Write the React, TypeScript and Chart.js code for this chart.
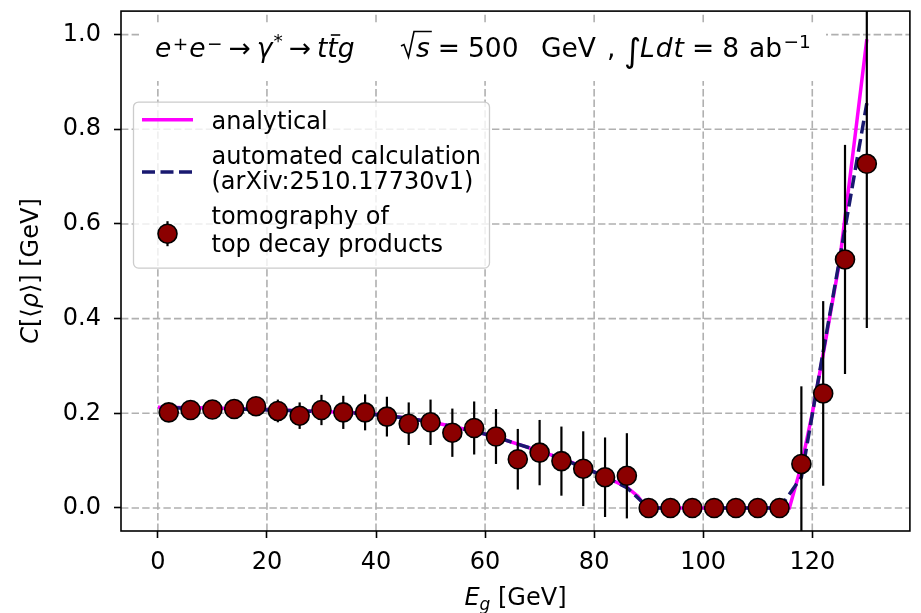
import React, { useEffect, useRef } from "react";
import { Chart, registerables } from "chart.js";

Chart.register(...registerables);

// ---------------- data ----------------
const energies = [2, 6, 10, 14, 18, 22, 26, 30, 34, 38, 42, 46, 50, 54, 58, 62, 66, 70, 74, 78, 82, 86, 90, 94, 98, 102, 106, 110, 114, 118, 122, 126, 130];
const tomography = [0.202, 0.207, 0.208, 0.209, 0.215, 0.205, 0.195, 0.207, 0.202, 0.202, 0.193, 0.178, 0.181, 0.159, 0.169, 0.151, 0.103, 0.117, 0.099, 0.083, 0.065, 0.068, 0, 0, 0, 0, 0, 0, 0, 0.093, 0.242, 0.525, 0.727];
const tomographyErr = [0.010, 0.011, 0.012, 0.014, 0.016, 0.024, 0.028, 0.032, 0.035, 0.038, 0.042, 0.045, 0.048, 0.051, 0.056, 0.058, 0.064, 0.069, 0.073, 0.079, 0.084, 0.090, 0, 0, 0, 0, 0, 0, 0, 0.164, 0.195, 0.242, 0.347];
const automated = [0.212, 0.211, 0.210, 0.209, 0.208, 0.207, 0.205, 0.204, 0.202, 0.199, 0.195, 0.189, 0.182, 0.172, 0.162, 0.150, 0.135, 0.120, 0.104, 0.086, 0.066, 0.043, 0, 0, 0, 0, 0, 0, 0, 0.065, 0.33, 0.59, 0.855];
const analyticalE = [0, 10, 20, 30, 38, 42, 46, 50, 54, 58, 62, 66, 70, 74, 78, 82, 86, 88, 89.6, 115.8, 118, 120, 122, 125, 128, 130];
const analyticalC = [0.213, 0.211, 0.208, 0.204, 0.200, 0.196, 0.189, 0.182, 0.172, 0.162, 0.150, 0.135, 0.120, 0.105, 0.087, 0.066, 0.044, 0.025, 0, 0, 0.09, 0.2, 0.325, 0.52, 0.80, 0.99];
const xTicks = [0, 20, 40, 60, 80, 100, 120];
const yTicks = [0, 0.2, 0.4, 0.6, 0.8, 1.0];
const yTickLabels = ["0.0", "0.2", "0.4", "0.6", "0.8", "1.0"];
const xRange = [-6.76, 137.9];
const yRange = [-0.0486, 1.0496];
const seriesLabels = [
  ["analytical"],
  ["automated calculation", "(arXiv:2510.17730v1)"],
  ["tomography of", "top decay products"],
];

// ---------------- styles ----------------
const FONT = "'DejaVu Sans', sans-serif";
const FS = 24;
const SUP = 17;
const TFS = 26.5; // annotation font
const TSUP = 18.5;
const MAGENTA = "#ff00ff";
const NAVY = "#191970";
const DARKRED = "#8b0000";
const GRID = "#b0b0b0";
const DASH_LINE = [13, 5.5];
const GRID_DASH = [7.4, 3.2];

type Part = { t: string; it?: boolean; size?: number; dy?: number; gap?: number; bar?: boolean };

function font(it: boolean | undefined, size: number) {
  return `${it ? "italic " : ""}${size}px ${FONT}`;
}

function runWidth(ctx: CanvasRenderingContext2D, parts: Part[], def = FS) {
  let w = 0;
  for (const p of parts) {
    ctx.font = font(p.it, p.size || def);
    w += (p.gap || 0) + ctx.measureText(p.t).width;
  }
  return w;
}

function drawRun(ctx: CanvasRenderingContext2D, parts: Part[], x: number, y: number, def = FS) {
  let cx = x;
  for (const p of parts) {
    cx += p.gap || 0;
    ctx.font = font(p.it, p.size || def);
    ctx.fillText(p.t, cx, y + (p.dy || 0));
    const w = ctx.measureText(p.t).width;
    if (p.bar) {
      ctx.save();
      ctx.lineWidth = 1.6;
      ctx.beginPath();
      ctx.moveTo(cx + 3.5, y - 22);
      ctx.lineTo(cx + w + 2.5, y - 22);
      ctx.stroke();
      ctx.restore();
    }
    cx += w;
  }
  return cx;
}

const SPA = 6; // spacing around arrows
const SPE = 8; // spacing around "="

const titleA: Part[] = [
  { t: "e", it: true },
  { t: "+", size: TSUP, dy: -7, gap: 1.5 },
  { t: "e", it: true, gap: 1 },
  { t: "\u2212", size: TSUP, dy: -7, gap: 1.5 },
  { t: "\u2192", gap: SPA },
  { t: "\u03b3", it: true, gap: SPA },
  { t: "*", size: TSUP, dy: -10, gap: 1 },
  { t: "\u2192", gap: SPA },
  { t: "t", it: true, gap: SPA },
  { t: "t", it: true, bar: true },
  { t: "g", it: true },
];
const titleB: Part[] = [
  { t: "=", gap: SPE },
  { t: "500", gap: SPE },
];
const titleC: Part[] = [
  { t: "L", it: true },
  { t: "d", it: true, gap: 1 },
  { t: "t", it: true, gap: 1 },
  { t: "=", gap: SPE },
  { t: "8", gap: SPE },
];
const titleD: Part[] = [
  { t: "ab" },
  { t: "\u22121", size: TSUP, dy: -9, gap: 1.5 },
];

const decorPlugin = {
  id: "decor",
  beforeDatasetsDraw(chart: any) {
    const { ctx, chartArea: a, scales } = chart;
    ctx.save();
    ctx.strokeStyle = GRID;
    ctx.lineWidth = 1.6;
    ctx.setLineDash(GRID_DASH);
    for (const v of xTicks) {
      const px = scales.x.getPixelForValue(v);
      ctx.beginPath();
      ctx.moveTo(px, a.bottom);
      ctx.lineTo(px, a.top);
      ctx.stroke();
    }
    for (const v of yTicks) {
      const py = scales.y.getPixelForValue(v);
      ctx.beginPath();
      ctx.moveTo(a.left, py);
      ctx.lineTo(a.right, py);
      ctx.stroke();
    }
    ctx.restore();
  },
  beforeDatasetDraw(chart: any, args: any) {
    if (args.index !== 0) return;
    const { ctx, chartArea: a, scales } = chart;
    ctx.save();
    ctx.beginPath();
    ctx.rect(a.left, a.top, a.right - a.left, a.bottom - a.top);
    ctx.clip();
    ctx.strokeStyle = "#000";
    ctx.lineWidth = 2.2;
    energies.forEach((e, i) => {
      const err = tomographyErr[i];
      if (!err) return;
      const px = scales.x.getPixelForValue(e);
      ctx.beginPath();
      ctx.moveTo(px, scales.y.getPixelForValue(tomography[i] - err));
      ctx.lineTo(px, scales.y.getPixelForValue(tomography[i] + err));
      ctx.stroke();
    });
    ctx.restore();
  },
  afterDatasetsDraw(chart: any) {
    const { ctx, chartArea: a } = chart;
    const L = a.left;
    ctx.save();
    // annotation box
    ctx.fillStyle = "#ffffff";
    ctx.fillRect(L + 21, 24, 684, 57);
    ctx.fillStyle = "#000";
    ctx.strokeStyle = "#000";
    ctx.textAlign = "left";
    ctx.textBaseline = "alphabetic";
    const base = 57;
    drawRun(ctx, titleA, L + 34, base, TFS);
    // radical sqrt(s)
    const rx = L + 280;
    ctx.font = font(true, TFS);
    const sw = ctx.measureText("s").width;
    ctx.lineWidth = 1.6;
    ctx.beginPath();
    ctx.moveTo(rx, 46);
    ctx.lineTo(rx + 3, 44.5);
    ctx.lineTo(rx + 7.5, base);
    ctx.lineTo(rx + 13, 31.5);
    ctx.lineTo(rx + 15 + sw + 2, 31.5);
    ctx.stroke();
    ctx.fillText("s", rx + 15, base);
    drawRun(ctx, titleB, rx + 15 + sw, base, TFS);
    ctx.font = font(false, TFS);
    ctx.fillText("GeV", L + 420, base);
    ctx.fillText(",", L + 486, base);
    ctx.font = font(false, 33);
    ctx.fillText("\u222b", L + 503, base + 5);
    drawRun(ctx, titleC, L + 519, base, TFS);
    drawRun(ctx, titleD, L + 628, base, TFS);
    // frame
    ctx.lineWidth = 1.6;
    ctx.strokeRect(a.left, a.top, a.right - a.left, a.bottom - a.top);
    ctx.restore();
  },
  afterDraw(chart: any) {
    const { ctx, chartArea: a } = chart;
    ctx.save();
    ctx.fillStyle = "#000";
    ctx.textAlign = "left";
    ctx.textBaseline = "alphabetic";
    // x axis title
    const xParts: Part[] = [
      { t: "E", it: true },
      { t: "g", it: true, size: SUP, dy: 5 },
      { t: " [GeV]" },
    ];
    const xw = runWidth(ctx, xParts);
    drawRun(ctx, xParts, (a.left + a.right) / 2 - xw / 2, 605);
    // y axis title
    const yParts: Part[] = [
      { t: "C", it: true },
      { t: "[\u27e8" },
      { t: "\u03c1", it: true },
      { t: "\u27e9] [GeV]" },
    ];
    const yw = runWidth(ctx, yParts);
    ctx.save();
    ctx.translate(38, (a.top + a.bottom) / 2);
    ctx.rotate(-Math.PI / 2);
    drawRun(ctx, yParts, -yw / 2, 0);
    ctx.restore();

    // legend
    const lx = a.left + 12.5;
    const ly = a.top + 91;
    const lw = 356;
    const lh = 166;
    ctx.fillStyle = "rgba(255,255,255,0.8)";
    ctx.strokeStyle = "#cccccc";
    ctx.lineWidth = 1.3;
    ctx.beginPath();
    (ctx as any).roundRect(lx, ly, lw, lh, 5);
    ctx.fill();
    ctx.stroke();
    const hx0 = lx + 8.5;
    const hx1 = lx + 59.5;
    const tx = lx + 78;
    ctx.strokeStyle = MAGENTA;
    ctx.lineWidth = 3.5;
    ctx.beginPath();
    ctx.moveTo(hx0, ly + 17.6);
    ctx.lineTo(hx1, ly + 17.6);
    ctx.stroke();
    ctx.strokeStyle = NAVY;
    ctx.setLineDash(DASH_LINE);
    ctx.beginPath();
    ctx.moveTo(hx0, ly + 70);
    ctx.lineTo(hx1, ly + 70);
    ctx.stroke();
    ctx.setLineDash([]);
    const mx = (hx0 + hx1) / 2;
    const my = ly + 131.6;
    ctx.strokeStyle = "#000";
    ctx.lineWidth = 2.2;
    ctx.beginPath();
    ctx.moveTo(mx, my - 12.5);
    ctx.lineTo(mx, my + 12.5);
    ctx.stroke();
    ctx.fillStyle = DARKRED;
    ctx.lineWidth = 1.6;
    ctx.beginPath();
    ctx.arc(mx, my, 9.5, 0, Math.PI * 2);
    ctx.fill();
    ctx.stroke();
    ctx.fillStyle = "#000";
    ctx.font = font(false, FS);
    const baselines = [[26.6], [61.6, 87.3], [122.3, 150]];
    seriesLabels.forEach((lines, i) => {
      lines.forEach((t, j) => ctx.fillText(t, tx, ly + baselines[i][j]));
    });
    ctx.restore();
  },
};

export default function App() {
  const ref = useRef<HTMLCanvasElement | null>(null);
  useEffect(() => {
    document.body.style.margin = "0";
    if (!ref.current) return;
    const chart = new Chart(ref.current, {
      type: "scatter",
      data: {
        datasets: [
          {
            label: seriesLabels[2].join(" "),
            data: energies.map((e, i) => ({ x: e, y: tomography[i] })),
            pointRadius: 9.5,
            pointHoverRadius: 9.5,
            pointBackgroundColor: DARKRED,
            pointBorderColor: "#000",
            pointBorderWidth: 1.6,
            showLine: false,
          },
          {
            label: seriesLabels[1].join(" "),
            data: energies.map((e, i) => ({ x: e, y: automated[i] })),
            showLine: true,
            borderColor: NAVY,
            borderWidth: 3.5,
            borderDash: DASH_LINE,
            pointRadius: 0,
            tension: 0,
            fill: false,
          },
          {
            label: seriesLabels[0].join(" "),
            data: analyticalE.map((e, i) => ({ x: e, y: analyticalC[i] })),
            showLine: true,
            borderColor: MAGENTA,
            borderWidth: 3.5,
            pointRadius: 0,
            tension: 0,
            fill: false,
          },
        ],
      } as any,
      options: {
        animation: false,
        responsive: false,
        events: [],
        layout: { padding: { top: 11, right: 4, left: 0, bottom: 0 } },
        plugins: {
          legend: { display: false },
          tooltip: { enabled: false },
          title: { display: false },
        },
        scales: {
          x: {
            type: "linear",
            min: xRange[0],
            max: xRange[1],
            afterBuildTicks: (s: any) => {
              s.ticks = xTicks.map((v) => ({ value: v }));
            },
            afterFit: (s: any) => {
              s.height = 82;
              s.paddingLeft = 0;
              s.paddingRight = 0;
            },
            grid: { drawOnChartArea: false, drawTicks: true, tickLength: 7, tickColor: "#000", tickWidth: 1.6 },
            border: { display: false },
            ticks: {
              color: "#000",
              font: { family: FONT, size: FS },
              padding: 10,
              maxRotation: 0,
              autoSkip: false,
              callback: (v: any) => String(v),
            },
          },
          y: {
            type: "linear",
            min: yRange[0],
            max: yRange[1],
            afterBuildTicks: (s: any) => {
              s.ticks = yTicks.map((v) => ({ value: v }));
            },
            afterFit: (s: any) => {
              s.width = 121;
              s.paddingTop = 0;
              s.paddingBottom = 0;
            },
            grid: { drawOnChartArea: false, drawTicks: true, tickLength: 7, tickColor: "#000", tickWidth: 1.6 },
            border: { display: false },
            ticks: {
              color: "#000",
              font: { family: FONT, size: FS },
              padding: 13,
              autoSkip: false,
              callback: (v: any, i: number) => yTickLabels[i],
            },
          },
        },
      } as any,
      plugins: [decorPlugin],
    });
    return () => chart.destroy();
  }, []);
  return (
    <div style={{ width: 921, height: 613 }}>
      <canvas ref={ref} width={921} height={613} style={{ width: 921, height: 613, display: "block" }} />
    </div>
  );
}
